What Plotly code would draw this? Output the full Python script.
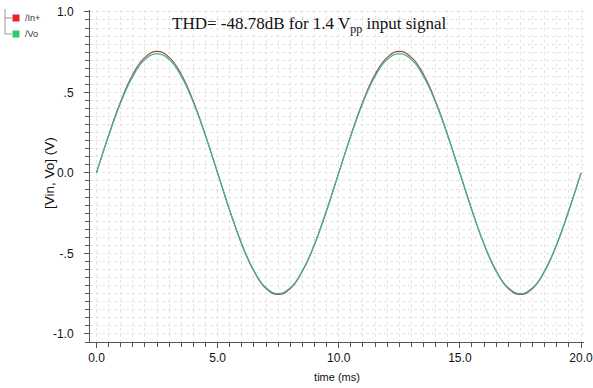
import plotly.graph_objects as go

# Transient simulation: time axis (ms) sampled every 0.5 ms
time_ms = [0.0, 0.5, 1.0, 1.5, 2.0, 2.5, 3.0, 3.5, 4.0, 4.5,
           5.0, 5.5, 6.0, 6.5, 7.0, 7.5, 8.0, 8.5, 9.0, 9.5,
           10.0, 10.5, 11.0, 11.5, 12.0, 12.5, 13.0, 13.5, 14.0, 14.5,
           15.0, 15.5, 16.0, 16.5, 17.0, 17.5, 18.0, 18.5, 19.0, 19.5, 20.0]

# Input node /In+ (V)
v_in = [0.000, 0.233, 0.444, 0.611, 0.718, 0.755, 0.718, 0.611, 0.444, 0.233,
        0.000, -0.233, -0.444, -0.611, -0.718, -0.755, -0.718, -0.611, -0.444, -0.233,
        0.000, 0.233, 0.444, 0.611, 0.718, 0.755, 0.718, 0.611, 0.444, 0.233,
        0.000, -0.233, -0.444, -0.611, -0.718, -0.755, -0.718, -0.611, -0.444, -0.233,
        0.000]

# Output node /Vo (V)
v_out = [0.000, 0.229, 0.436, 0.600, 0.705, 0.740, 0.705, 0.600, 0.436, 0.229,
         0.000, -0.232, -0.441, -0.607, -0.713, -0.750, -0.713, -0.607, -0.441, -0.232,
         0.000, 0.229, 0.436, 0.600, 0.705, 0.740, 0.705, 0.600, 0.436, 0.229,
         0.000, -0.232, -0.441, -0.607, -0.713, -0.750, -0.713, -0.607, -0.441, -0.232,
         0.000]

x_tickvals = [0, 5, 10, 15, 20]
x_ticktext = ["0.0", "5.0", "10.0", "15.0", "20.0"]
y_tickvals = [-1.0, -0.5, 0.0, 0.5, 1.0]
y_ticktext = ["-1.0", "-.5", "0.0", ".5", "1.0"]

series_names = ["/In+", "/Vo"]
line_colors = ["#9c4a3c", "#40b896"]
legend_colors = ["#e8232b", "#2ecc71"]

# plot-area geometry in pixels, used to place the signal-browser legend
W, H = 593, 388
M_L, M_R, M_T, M_B = 90, 9, 10, 46
PW, PH = W - M_L - M_R, H - M_T - M_B


def px(x):
    return (x - M_L) / PW


def py(y):
    return (H - M_B - y) / PH


fig = go.Figure()

for name, ys, lc in zip(series_names, [v_in, v_out], line_colors):
    fig.add_trace(go.Scatter(
        x=time_ms, y=ys, mode="lines", name=name, showlegend=False,
        line=dict(color=lc, width=1.2, shape="spline", smoothing=1.3),
    ))

grid_color = "#e3e3e3"
axis_color = "#555555"

fig.update_layout(
    width=W, height=H,
    margin=dict(l=M_L, r=M_R, t=M_T, b=M_B, autoexpand=False),
    paper_bgcolor="white", plot_bgcolor="white",
    font=dict(family="Liberation Sans, Arial, sans-serif", color="#111111"),
    showlegend=False,
    xaxis=dict(
        range=[-0.268, 20.124],
        automargin=False,
        tickvals=x_tickvals, ticktext=x_ticktext,
        ticks="outside", ticklen=5, tickcolor=axis_color,
        showline=True, linecolor=axis_color, linewidth=1,
        showgrid=True, gridcolor=grid_color, griddash="dot", gridwidth=1,
        zeroline=False,
        tickfont=dict(size=12),
        ticklabeloverflow="allow",
        minor=dict(dtick=0.5, ticks="outside", ticklen=4, tickcolor=axis_color,
                   showgrid=True, gridcolor=grid_color, griddash="dot"),
        title=dict(text="time (ms)", font=dict(size=11), standoff=8),
    ),
    yaxis=dict(
        range=[-1.05, 1.012],
        automargin=False,
        tickvals=y_tickvals, ticktext=y_ticktext,
        ticks="outside", ticklen=5, tickcolor=axis_color,
        showline=True, linecolor=axis_color, linewidth=1,
        showgrid=True, gridcolor=grid_color, griddash="dot", gridwidth=1,
        zeroline=False,
        tickfont=dict(size=12),
        ticklabelstandoff=8,
        minor=dict(dtick=0.05, ticks="outside", ticklen=4, tickcolor=axis_color,
                   showgrid=True, gridcolor=grid_color, griddash="dot"),
    ),
)

# y-axis title sits right against the tick labels
fig.add_annotation(
    x=px(49), y=py(173), xref="paper", yref="paper",
    xanchor="center", yanchor="middle", showarrow=False, textangle=-90,
    text="[Vin, Vo] (V)", font=dict(size=13.5, color="#111111"),
)

fig.add_annotation(
    x=px(170), y=py(25), xref="paper", yref="paper",
    xanchor="left", yanchor="middle", showarrow=False,
    text="THD= -48.78dB for 1.4 V<sub>pp</sub> input signal",
    font=dict(family="Liberation Serif, Times New Roman, serif", size=17, color="#111111"),
)

# signal tree legend: connector lines, colour swatches and node names
tree_color = "#9a9a9a"
fig.add_shape(type="line", xref="paper", yref="paper",
              x0=px(5), x1=px(5), y0=py(9), y1=py(34),
              line=dict(color=tree_color, width=1))
legend_rows = [18, 34]
for name, lc, row in zip(series_names, legend_colors, legend_rows):
    fig.add_shape(type="line", xref="paper", yref="paper",
                  x0=px(5), x1=px(12), y0=py(row), y1=py(row),
                  line=dict(color=tree_color, width=1))
    fig.add_shape(type="rect", xref="paper", yref="paper",
                  x0=px(12.5), x1=px(19.5), y0=py(row - 3.5), y1=py(row + 3.5),
                  fillcolor=lc, line=dict(width=0))
    fig.add_annotation(
        x=px(23), y=py(row), xref="paper", yref="paper",
        xanchor="left", yanchor="middle", showarrow=False,
        text=name, font=dict(size=9, color="#333333"),
    )

fig.write_html("out.html")
